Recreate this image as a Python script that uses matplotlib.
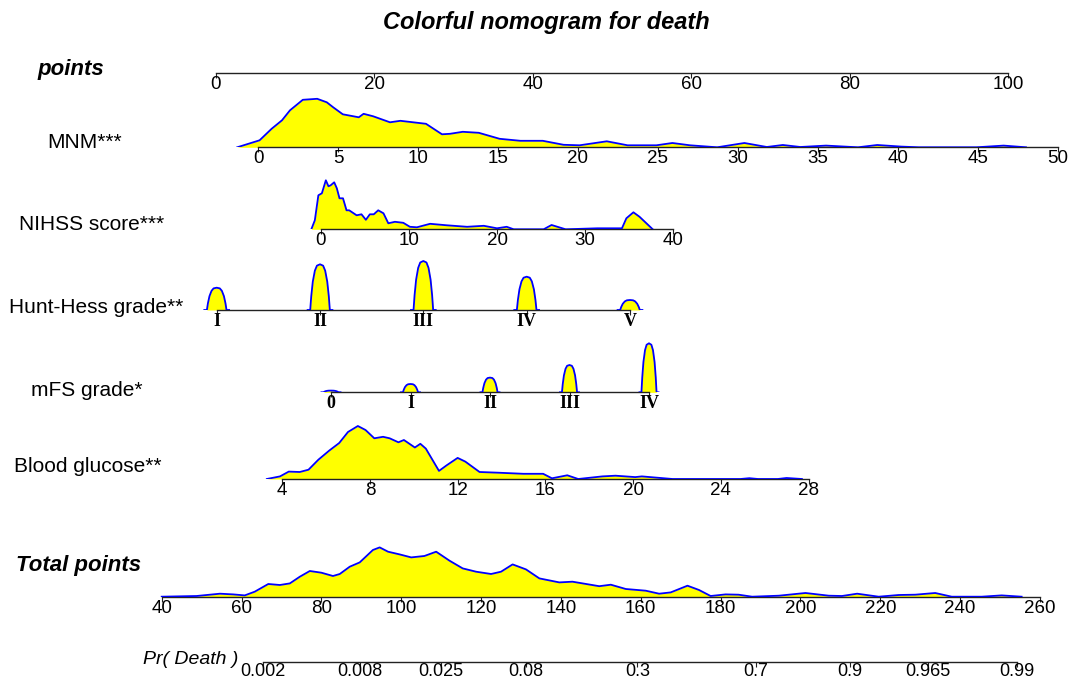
"""
Colorful nomogram for death
"""

import numpy as np
import matplotlib.pyplot as plt
from matplotlib.ticker import NullLocator, NullFormatter

plt.rcParams['font.family'] = ['Liberation Sans', 'DejaVu Sans']

W, H = 1071, 680
ROW_H = 60  # height of each row's density band, in px

# ---- values ----
points_ticks = [0, 20, 40, 60, 80, 100]

mnm_ticks = [0, 5, 10, 15, 20, 25, 30, 35, 40, 45, 50]
mnm_x = [-1.3, 0.1, 0.85, 1.5, 2.0, 2.8, 3.7, 4.3, 4.7, 5.3, 6.3, 6.6, 7.2, 8.25, 8.9,
         9.7, 10.5, 11.5, 12.0, 12.8, 13.8, 15.1, 16.4, 17.8, 19.1, 20.1, 21.8, 23.1,
         24.9, 25.9, 27.0, 28.7, 30.4, 31.8, 32.8, 33.9, 35.5, 37.5, 38.7, 40.2, 41.3,
         44.9, 46.6, 48.0]
mnm_d = [0, 7, 18.5, 27, 37, 47.5, 48.5, 45, 40, 33, 30, 33.5, 31, 25, 26.5,
         25, 23.5, 13, 13.5, 15.5, 14.5, 8.5, 6.5, 6.5, 2.5, 2, 6, 2,
         2, 4.3, 2, 0, 4.3, 0.3, 2.3, 0.3, 1.7, 0, 2.3, 0.7, 0,
         0, 1.7, 0]

nihss_ticks = [0, 10, 20, 30, 40]
nihss_x = [-1.1, -0.7, -0.3, 0.1, 0.55, 0.85, 1.1, 1.5, 1.8, 2.1, 2.5, 2.9, 3.2, 4.05,
           4.6, 5.1, 5.55, 6.0, 6.5, 7.1, 7.65, 8.4, 9.35, 10.1, 10.9, 12.4, 14.3, 16.6,
           18.5, 20.0, 21.1, 21.9, 25.3, 26.2, 27.8, 31.4, 34.2, 34.7, 35.5, 36.2, 36.8,
           37.7]
nihss_d = [0, 9, 34, 36, 49, 43, 44, 47, 41, 31, 31, 19, 19, 14,
           15, 9.5, 15, 15, 19, 16, 6, 7.5, 6.5, 2.5, 2, 5.5, 4, 2.5,
           3.5, 1, 2.5, 0, 0, 4.3, 0, 1, 1, 11, 17, 12.5, 7.5,
           0]

hh_levels = [1, 2, 3, 4, 5]
hh_labels = ['I', 'II', 'III', 'IV', 'V']
hh_height = [22.3, 45.7, 49, 33.3, 10]

mfs_levels = [0, 1, 2, 3, 4]
mfs_labels = ['0', 'I', 'II', 'III', 'IV']
mfs_height = [1.7, 8.3, 14.7, 27.3, 49]

# shape of one category bump (offset in category units, share of its height)
bump_dx = [-0.12, -0.095, -0.085, -0.07, -0.05, -0.03, 0, 0.03, 0.05, 0.07, 0.085, 0.095, 0.12]
bump_rel = [0, 0, 0.3, 0.62, 0.86, 0.97, 1, 0.97, 0.86, 0.62, 0.3, 0, 0]

glu_ticks = [4, 8, 12, 16, 20, 24, 28]
glu_x = [3.3, 3.9, 4.3, 4.8, 5.2, 5.65, 6.15, 6.6, 7.0, 7.45, 7.8, 8.2, 8.6, 8.9, 9.3,
         9.55, 10.05, 10.3, 10.55, 11.15, 11.5, 12.0, 12.35, 13.0, 13.85, 15.0, 15.9,
         16.3, 17.0, 17.5, 18.6, 19.2, 20.1, 20.4, 21.8, 24.9, 25.3, 25.7, 26.6, 27.0,
         27.7]
glu_d = [0, 2.6, 7.4, 7, 9.3, 19.3, 28.5, 36, 47, 53, 49, 40.7, 42.2, 40.7, 36.7,
         39, 31.5, 35.2, 30.4, 8.1, 13.7, 21.1, 17.4, 7, 6.3, 5.2, 5.2,
         0.7, 3.7, 0, 2.6, 3.3, 1.9, 2.6, 0, 0, 0.8, 0, 0, 1,
         0]

total_ticks = [40, 60, 80, 100, 120, 140, 160, 180, 200, 220, 240, 260]
total_x = [40, 48.75, 54.6, 57.9, 60.8, 63.3, 66.7, 69.6, 72.1, 74.6, 77.1, 80, 82.9,
           84.6, 87.1, 89.6, 92.9, 94.6, 96.7, 99.6, 102.5, 105.8, 108.75, 112.1, 115.4,
           118.75, 122.5, 125, 127.9, 131.25, 134.6, 139.6, 142.9, 149.6, 152.5, 156.25,
           161.25, 164.6, 167.5, 171.7, 174.6, 177.5, 181.25, 184.5, 187.9, 194.6, 201.25,
           207.1, 210.4, 214.2, 219.6, 224.6, 228.75, 233.75, 237.9, 245.4, 250.4, 255.4]
total_d = [0, 0.7, 3, 2.3, 1.3, 5, 12.7, 11.7, 13.3, 20, 25.7, 24, 20.7,
           22.7, 30, 34.3, 46.7, 49.3, 45, 42.3, 39.3, 40.7, 45, 36, 28.3,
           25, 22.7, 25, 32.3, 27.3, 18.3, 14.3, 15, 10.5, 12, 7.7,
           6, 3, 4.3, 11, 6.7, 0.7, 2.3, 2, 0, 1, 3.7,
           1, 0.7, 3, 0, 1.7, 2, 3.7, 0, 0, 1.3, 0]

pr_ticks = [0.002, 0.008, 0.025, 0.08, 0.3, 0.7, 0.9, 0.965, 0.99]
pr_labels = ['0.002', '0.008', '0.025', '0.08', '0.3', '0.7', '0.9', '0.965', '0.99']

FILL = '#FFFF00'
EDGE = '#0000FF'

fig = plt.figure(figsize=(W / 100, H / 100), dpi=100)


def logit(p):
    return np.log(p / (1 - p))


def expit(u):
    return 1 / (1 + np.exp(-u))


def row(base_y, v0, p0, v1, p1, ticks, labels=None, logit_scale=False, size=13.5, pad=-1.2):
    ax = fig.add_axes([0, 1 - base_y / H, 1, ROW_H / H])
    if logit_scale:
        ax.set_xscale('logit')
        u0, u1 = logit(v0), logit(v1)
        k = (u1 - u0) / (p1 - p0)
        ax.set_xlim(expit(u0 - p0 * k), expit(u0 + (W - p0) * k))
        ax.xaxis.set_minor_locator(NullLocator())
        ax.xaxis.set_minor_formatter(NullFormatter())
    else:
        k = (v1 - v0) / (p1 - p0)
        ax.set_xlim(v0 - p0 * k, v0 + (W - p0) * k)
    ax.set_ylim(0, ROW_H)
    ax.patch.set_visible(False)
    for s in ('top', 'right', 'left'):
        ax.spines[s].set_visible(False)
    ax.spines['bottom'].set_bounds(v0, v1)
    ax.spines['bottom'].set_linewidth(1.0)
    ax.spines['bottom'].set_color('#222222')
    ax.set_yticks([])
    ax.set_xticks(ticks)
    if labels is not None:
        ax.set_xticklabels(labels)
    ax.tick_params(axis='x', length=3.5, width=0.8, color='#222222', pad=pad, labelsize=size)
    return ax


def density(ax, x, d):
    ax.fill_between(x, 0, d, color=FILL, lw=0, zorder=1)
    ax.plot(x, d, color=EDGE, lw=1.3, zorder=3)


def bumps(ax, levels, heights):
    for c, h in zip(levels, heights):
        xs = [c + dx for dx in bump_dx]
        ys = [h * r for r in bump_rel]
        density(ax, xs, ys)


def roman(ax):
    for t in ax.get_xticklabels():
        t.set_fontfamily('Liberation Serif')
        t.set_fontweight('bold')
        t.set_fontsize(13)


ax = row(73.3, 0, 216, 100, 1008, points_ticks)

ax = row(147.3, 0, 258, 50, 1058, mnm_ticks)
density(ax, mnm_x, mnm_d)

ax = row(229.3, 0, 321, 40, 673, nihss_ticks)
density(ax, nihss_x, nihss_d)

ax = row(310, 1, 216.7, 5, 630, hh_levels, hh_labels)
bumps(ax, hh_levels, hh_height)
roman(ax)

ax = row(392.3, 0, 331, 4, 649, mfs_levels, mfs_labels)
bumps(ax, mfs_levels, mfs_height)
roman(ax)

ax = row(479, 4, 282.2, 28, 808.5, glu_ticks)
density(ax, glu_x, glu_d)

ax = row(596.7, 40, 161.7, 260, 1040, total_ticks)
density(ax, total_x, total_d)

ax = row(662.2, 0.002, 263, 0.99, 1017, pr_ticks, pr_labels, logit_scale=True,
         size=13, pad=-2.6)


def label(x, y, s, **kw):
    fig.text(x / W, 1 - y / H, s, va='center', **kw)


label(546, 23, 'Colorful nomogram for death', ha='center', fontsize=17,
      fontweight='bold', fontstyle='italic')
label(37, 70, 'points', fontsize=16, fontweight='bold', fontstyle='italic')
label(47, 143, 'MNM***', fontsize=15)
label(19, 225, 'NIHSS score***', fontsize=15)
label(9, 308, 'Hunt-Hess grade**', fontsize=15)
label(31, 390, 'mFS grade*', fontsize=15)
label(14, 467, 'Blood glucose**', fontsize=15)
label(16, 565, 'Total points', fontsize=16, fontweight='bold', fontstyle='italic')
label(143, 660, 'Pr( Death )', fontsize=14, fontstyle='italic')

plt.savefig('out.png', dpi=100)
